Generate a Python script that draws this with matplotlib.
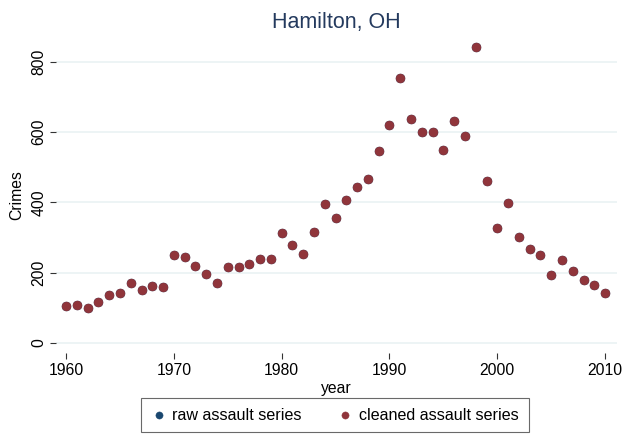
import matplotlib.pyplot as plt
import numpy as np

years = list(range(1960, 2011))
cleaned = [105, 108, 100, 117, 137, 142, 171, 151, 162, 160,
           251, 245, 219, 197, 171, 216, 216, 225, 239, 239,
           312, 279, 253, 316, 396, 356, 407, 445, 468, 547,
           619, 755, 638, 601, 601, 550, 633, 589, 843, 461,
           326, 398, 303, 268, 250, 193, 236, 204, 179, 164,
           143]
raw = list(cleaned)  # raw series sits underneath the cleaned one

xticks = [1960, 1970, 1980, 1990, 2000, 2010]
yticks = [0, 200, 400, 600, 800]

plt.rcParams['font.family'] = ['Liberation Sans', 'DejaVu Sans']

fig = plt.figure(figsize=(6.37, 4.37), dpi=100)
ax = fig.add_axes([56/637, 85/437, 561/637, 314/437])

ax.scatter(years, raw, s=42, color='#1a476f', edgecolor='#1a476f', linewidth=0.3,
           label='raw assault series', zorder=3)
ax.scatter(years, cleaned, s=42, color='#90353b', edgecolor='#90353b', linewidth=0.3,
           label='cleaned assault series', zorder=4)

ax.set_xlim(1959.07, 2011.1)
ax.set_ylim(-25.6, 868)
ax.set_xticks(xticks)
ax.set_yticks(yticks)
ax.grid(axis='y', color='#eaf2f3', linewidth=1.2)
ax.set_axisbelow(True)

for s in ax.spines.values():
    s.set_visible(False)
ax.spines['bottom'].set_position(('outward', 1))
ax.tick_params(axis='both', direction='out', length=4, width=0.8, color='#333333',
               labelsize=11.3, pad=3)
plt.setp(ax.get_yticklabels(), rotation=90, va='center')

ax.set_xlabel('year', fontsize=11.3, labelpad=2)
ax.set_ylabel('Crimes', fontsize=11.3, labelpad=5)
ax.set_title('Hamilton, OH', fontsize=15.5, color='#243a5e', pad=7)

leg = ax.legend(loc='upper center', bbox_to_anchor=(0.497, -0.146), ncol=2, fontsize=11.6,
                frameon=True, fancybox=False, edgecolor='#444444', markerscale=0.8,
                handletextpad=0.35, columnspacing=2.2, borderpad=0.6, handlelength=1.0,
                borderaxespad=0)
leg.get_frame().set_linewidth(0.8)

plt.savefig('out.png', dpi=100)
